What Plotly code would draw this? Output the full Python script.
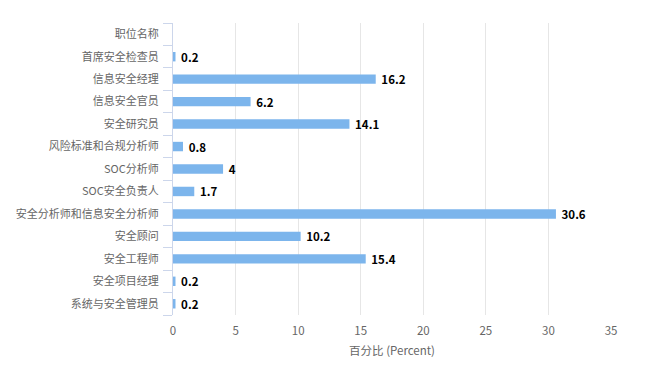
import plotly.graph_objects as go

categories = ["职位名称", "首席安全检查员", "信息安全经理", "信息安全官员", "安全研究员",
              "风险标准和合规分析师", "SOC分析师", "SOC安全负责人", "安全分析师和信息安全分析师",
              "安全顾问", "安全工程师", "安全项目经理", "系统与安全管理员"]
values = [None, 0.2, 16.2, 6.2, 14.1, 0.8, 4, 1.7, 30.6, 10.2, 15.4, 0.2, 0.2]
labels = ["" if v is None else f" {v:g}" for v in values]
x_ticks = [0, 5, 10, 15, 20, 25, 30, 35]

font_family = "Noto Sans CJK SC, Microsoft YaHei, sans-serif"

fig = go.Figure(go.Bar(
    y=categories, x=values, orientation="h",
    marker=dict(color="#7cb5ec", line=dict(width=0)),
    width=0.42,
    text=labels, textposition="outside", cliponaxis=False, constraintext="none",
    textfont=dict(family=font_family, size=11.5, color="#000000", weight="bold"),
    hoverinfo="x+y",
))

fig.update_layout(
    width=642, height=360,
    margin=dict(l=165, r=39, t=15, b=53),
    paper_bgcolor="white", plot_bgcolor="white",
    showlegend=False,
    font=dict(family=font_family, size=11, color="#666666"),
    xaxis=dict(
        range=[0, 35], tickvals=x_ticks, showgrid=True, gridcolor="#e6e6e6", gridwidth=1,
        zeroline=False, showline=False, ticks="", ticklabelstandoff=7, automargin=False,
        tickfont=dict(size=11.5, color="#666666"),
        title=dict(text="百分比 (Percent)", font=dict(size=11.5, color="#666666"), standoff=10),
    ),
    yaxis=dict(
        categoryorder="array", categoryarray=categories[::-1],
        autorange=False, range=[-0.5, 12.5], automargin=False,
        showline=True, linecolor="#ccd6eb", linewidth=1,
        ticks="outside", tickson="boundaries", ticklen=9, tickcolor="#ccd6eb",
        showgrid=False, tickfont=dict(size=11, color="#666666"),
        ticklabelstandoff=11,
    ),
)

fig.write_html("out.html")
